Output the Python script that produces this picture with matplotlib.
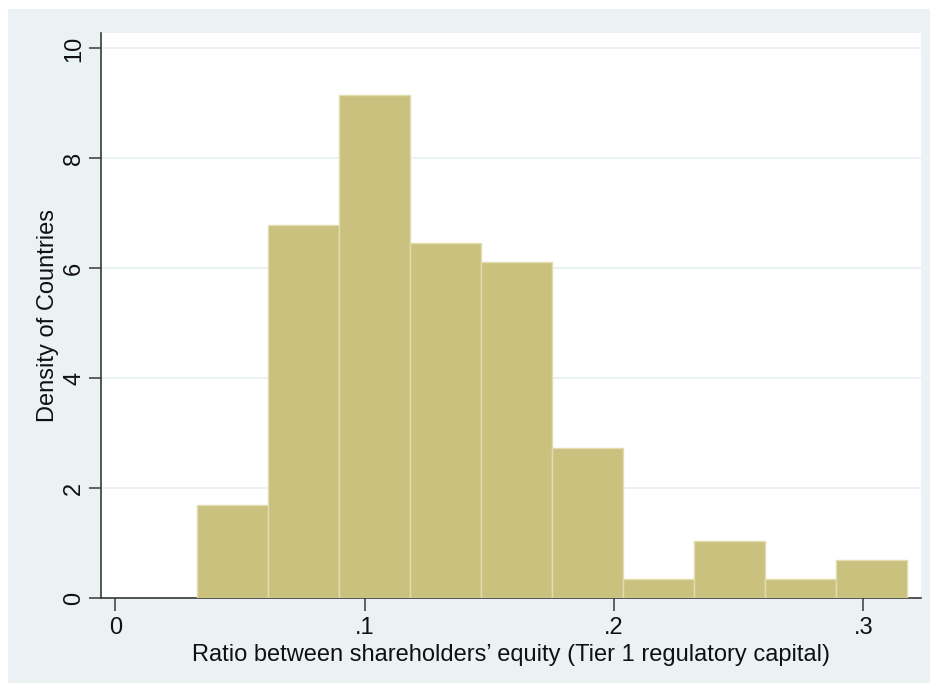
import matplotlib
matplotlib.use('Agg')
import matplotlib.pyplot as plt
from matplotlib.patches import Rectangle

# Histogram bins (left edges) and densities
bin_start = 0.0329
bin_width = 0.02845
densities = [1.70, 6.79, 9.16, 6.46, 6.11, 2.73, 0.346, 1.03, 0.346, 0.687]
x_ticks = [0, 0.1, 0.2, 0.3]
x_tick_labels = ['0', '.1', '.2', '.3']
y_ticks = [0, 2, 4, 6, 8, 10]
y_tick_labels = ['0', '2', '4', '6', '8', '10']

plt.rcParams['font.family'] = ['Liberation Sans', 'DejaVu Sans']

W, H = 930, 683
fig = plt.figure(figsize=(W / 100, H / 100), dpi=100, facecolor='white')
fig.patches.append(Rectangle((8 / W, 0), 1 - 8 / W, 1 - 9 / H, transform=fig.transFigure,
                             facecolor='#EAF2F3', edgecolor='none', zorder=-10))

ax = fig.add_axes([101 / W, 1 - 598 / H, (921 - 101) / W, (598 - 33) / H])
ax.set_facecolor('white')

lefts = [bin_start + i * bin_width for i in range(len(densities))]
ax.bar(lefts, densities, width=bin_width, align='edge', color='#CAC17F',
       edgecolor='#E2DDAE', linewidth=1.0, zorder=3)

ax.set_xlim(-0.0058, 0.3231)
ax.set_ylim(0, 10.28)
ax.set_xticks(x_ticks)
ax.set_xticklabels(x_tick_labels)
ax.set_yticks(y_ticks)
ax.set_yticklabels(y_tick_labels, rotation=90, va='center')

ax.grid(axis='y', color='#EAF2F3', linewidth=1.5, zorder=0)
ax.set_axisbelow(True)
for s in ['top', 'right']:
    ax.spines[s].set_visible(False)
for s in ['left', 'bottom']:
    ax.spines[s].set_color('#3A3A3A')
    ax.spines[s].set_linewidth(1.2)

ax.tick_params(axis='both', length=9, width=1.1, color='#3A3A3A', labelsize=17,
               labelcolor='#111111')
ax.tick_params(axis='x', pad=5)
ax.tick_params(axis='y', pad=2.5)

ax.set_xlabel("Ratio between shareholders\u2019 equity (Tier 1 regulatory capital)",
              fontsize=17, labelpad=3, color='#111111')
ax.set_ylabel('Density of Countries', fontsize=17, labelpad=3, color='#111111')

fig.savefig('out.png', dpi=100, facecolor='white')
